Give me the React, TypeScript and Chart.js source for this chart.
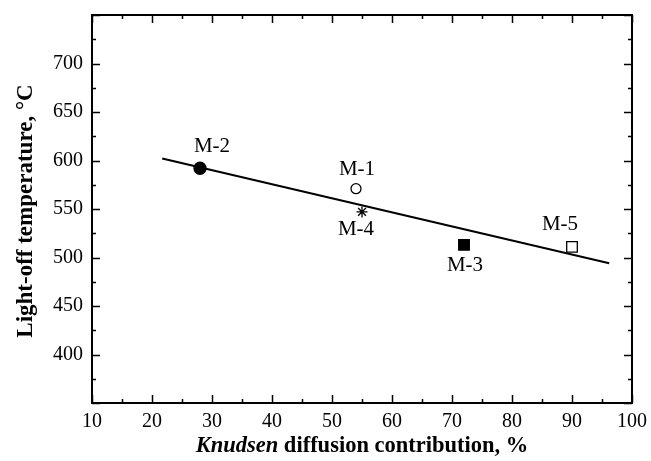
import React, { useEffect, useRef } from 'react';
import { Chart, registerables } from 'chart.js';

Chart.register(...registerables);

// ---- data ----
const materials = ['M-1', 'M-2', 'M-3', 'M-4', 'M-5'];
const knudsenContribution = [54, 28, 72, 55, 90];
const lightOffTemperature = [571, 592, 513, 547, 511];
const fitLineX = [21.7, 96.2];
const fitLineY = [602, 494];
const xTickValues = [10, 20, 30, 40, 50, 60, 70, 80, 90, 100];
const yTickValues = [400, 450, 500, 550, 600, 650, 700];

// ---- styles ----
const markerStyles = ['circle', 'circle', 'rect', 'star', 'rect'];
const markerFill = ['#ffffff', '#000000', '#000000', '#000000', '#ffffff'];
const markerRadius = [5, 6, 7.5, 5.5, 7.5];
const labelOffsets: [number, number][] = [
  [1, -19],
  [12, -22],
  [1, 21],
  [-6, 18],
  [-12, -22],
];

const FONT = '"Liberation Serif", "Times New Roman", serif';

const framePlugin = {
  id: 'frameAndLabels',
  afterDraw(chart: any) {
    const { ctx, chartArea, scales } = chart;
    const xs = scales.x;
    const ys = scales.y;
    const { left, right, top, bottom } = chartArea;
    ctx.save();
    ctx.strokeStyle = '#000';
    ctx.lineWidth = 2;
    ctx.strokeRect(left, top, right - left, bottom - top);

    ctx.lineWidth = 1.5;
    ctx.beginPath();
    for (let v = 10; v <= 100; v += 5) {
      const px = Math.round(xs.getPixelForValue(v)) + 0.5;
      const len = v % 10 === 0 ? 8 : 4;
      ctx.moveTo(px, bottom);
      ctx.lineTo(px, bottom - len);
      ctx.moveTo(px, top);
      ctx.lineTo(px, top + len);
    }
    for (let v = 350; v <= 750; v += 25) {
      const py = Math.round(ys.getPixelForValue(v)) + 0.5;
      const len = v % 50 === 0 ? 8 : 4;
      ctx.moveTo(left, py);
      ctx.lineTo(left + len, py);
      ctx.moveTo(right, py);
      ctx.lineTo(right - len, py);
    }
    ctx.stroke();

    // point labels
    ctx.fillStyle = '#000';
    ctx.font = `21px ${FONT}`;
    ctx.textAlign = 'center';
    ctx.textBaseline = 'middle';
    materials.forEach((m, i) => {
      const px = xs.getPixelForValue(knudsenContribution[i]);
      const py = ys.getPixelForValue(lightOffTemperature[i]);
      ctx.fillText(m, px + labelOffsets[i][0], py + labelOffsets[i][1]);
    });

    // x title
    const part1 = 'Knudsen';
    const part2 = ' diffusion contribution, %';
    ctx.font = `italic bold 22.5px ${FONT}`;
    const w1 = ctx.measureText(part1).width;
    ctx.font = `bold 22.5px ${FONT}`;
    const w2 = ctx.measureText(part2).width;
    const cx = (left + right) / 2;
    const startX = cx - (w1 + w2) / 2;
    const ty = 446;
    ctx.textAlign = 'left';
    ctx.font = `italic bold 22.5px ${FONT}`;
    ctx.fillText(part1, startX, ty);
    ctx.font = `bold 22.5px ${FONT}`;
    ctx.fillText(part2, startX + w1, ty);

    // y title
    ctx.translate(26, (top + bottom) / 2 + 2);
    ctx.rotate(-Math.PI / 2);
    ctx.textAlign = 'center';
    ctx.font = `bold 23px ${FONT}`;
    ctx.fillText('Light-off temperature, \u00B0C', 0, 0);
    ctx.restore();
  },
};

export default function App() {
  const canvasRef = useRef<HTMLCanvasElement | null>(null);

  useEffect(() => {
    document.body.style.margin = '0';
    const canvas = canvasRef.current;
    if (!canvas) return;
    const chart = new Chart(canvas, {
      type: 'scatter',
      data: {
        datasets: [
          {
            label: 'fit',
            data: fitLineX.map((x, i) => ({ x, y: fitLineY[i] })),
            showLine: true,
            borderColor: '#000',
            borderWidth: 2,
            pointRadius: 0,
            fill: false,
          },
          {
            label: 'samples',
            data: knudsenContribution.map((x, i) => ({ x, y: lightOffTemperature[i] })),
            pointStyle: markerStyles as any,
            pointRadius: markerRadius,
            pointBackgroundColor: markerFill,
            pointBorderColor: '#000',
            pointBorderWidth: 1.3,
            showLine: false,
          },
        ],
      },
      options: {
        responsive: false,
        animation: false,
        devicePixelRatio: 1,
        layout: { padding: { top: 15, right: 19, left: 0, bottom: 0 } },
        plugins: {
          legend: { display: false },
          tooltip: { enabled: false },
          title: { display: false },
        },
        scales: {
          x: {
            type: 'linear',
            min: 10,
            max: 100,
            afterBuildTicks: (scale: any) => {
              scale.ticks = xTickValues.map((v) => ({ value: v }));
            },
            afterFit: (scale: any) => {
              scale.height = 58;
              scale.paddingLeft = 0;
              scale.paddingRight = 0;
            },
            grid: { display: false, drawTicks: false },
            border: { display: false },
            ticks: {
              color: '#000',
              padding: 7,
              maxRotation: 0,
              autoSkip: false,
              font: { family: FONT, size: 20 },
            },
          },
          y: {
            type: 'linear',
            min: 350,
            max: 750,
            afterBuildTicks: (scale: any) => {
              scale.ticks = yTickValues.map((v) => ({ value: v }));
            },
            afterFit: (scale: any) => {
              scale.width = 92;
              scale.paddingTop = 0;
              scale.paddingBottom = 0;
            },
            grid: { display: false, drawTicks: false },
            border: { display: false },
            ticks: {
              color: '#000',
              padding: 9,
              autoSkip: false,
              font: { family: FONT, size: 20 },
            },
          },
        },
      },
      plugins: [framePlugin],
    });
    return () => chart.destroy();
  }, []);

  return <canvas ref={canvasRef} width={651} height={461} style={{ display: 'block' }} />;
}
